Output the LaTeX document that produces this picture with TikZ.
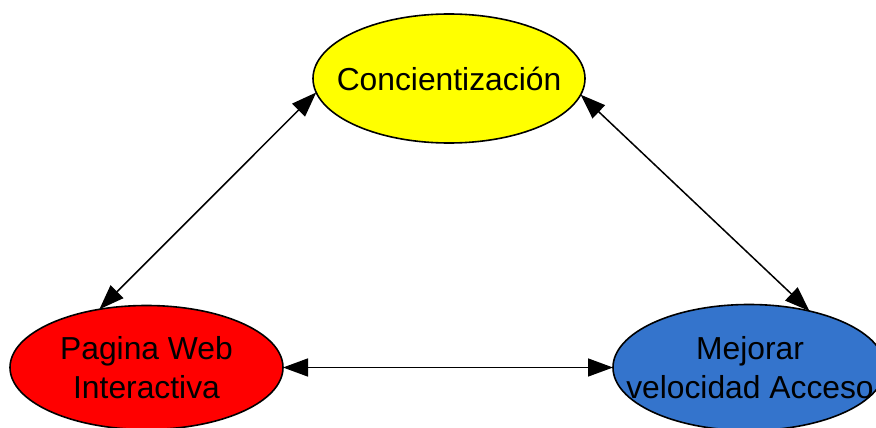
\documentclass[tikz,border=0pt]{standalone}
\usepackage{fontspec}
\setmainfont{Liberation Sans}
\usetikzlibrary{shapes.geometric,arrows.meta}
\definecolor{yel}{RGB}{255,255,0}
\definecolor{rd}{RGB}{255,0,0}
\definecolor{bl}{RGB}{52,116,204}
\begin{document}
\begin{tikzpicture}[x=1pt,y=-1pt,
  oval/.style={ellipse,draw=black,line width=1.6pt,inner sep=0pt,outer sep=0pt},
  txt/.style={align=center,inner sep=0pt,font=\fontsize{31.8}{38.5}\selectfont},
  link/.style={line width=1.5pt,{Triangle[length=25pt,width=18pt]}-{Triangle[length=25pt,width=18pt]}}]
\useasboundingbox (0,0) rectangle (876,428);
\node[oval,fill=yel,minimum width=272pt,minimum height=129pt] (con) at (449,78.5) {};
\node[oval,fill=rd,minimum width=273pt,minimum height=124pt] (web) at (146.5,367.5) {};
\node[oval,fill=bl,minimum width=272pt,minimum height=126pt] (vel) at (749,367.5) {};
\node[txt] (tcon) at (con.center) {Concientización};
\node[txt] (tweb) at (web.center) {Pagina Web\\Interactiva};
\node[txt] (tvel) at (750,367.5) {Mejorar\\velocidad Acceso};
\draw[link] (web.129) -- (con.186);
\draw[link] (con.353) -- (vel.43);
\draw[link] (web.east) -- (vel.west);
\end{tikzpicture}
\end{document}
